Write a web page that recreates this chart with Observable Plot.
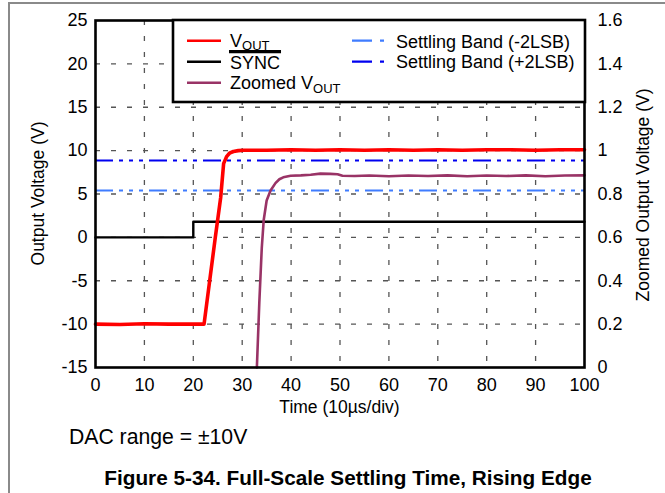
<!DOCTYPE html>
<html><head><meta charset="utf-8">
<script src="https://cdn.jsdelivr.net/npm/d3@7"></script>
<script src="https://cdn.jsdelivr.net/npm/@observablehq/plot@0.6"></script>
<style>
body{margin:0;background:#fff;font-family:"Liberation Sans",Arial,sans-serif;}
#wrap{position:relative;width:665px;height:493px;overflow:hidden;background:#fff;}
#pageborder{position:absolute;left:8px;top:2px;width:700px;height:600px;border-left:2px solid #8a8a8a;border-top:2px solid #8a8a8a;}
#chart{position:absolute;left:0;top:0;}
#legend{position:absolute;left:0;top:0;}
.cap{position:absolute;white-space:nowrap;color:#000;}
</style>
</head><body>
<div id="wrap">
  <div id="pageborder"></div>
  <div id="chart"></div>
  <svg id="legend" width="665" height="120"></svg>
  <div class="cap" id="caption" style="left:69px;top:425px;font-size:21.2px;">DAC range = ±10V</div>
  <div class="cap" id="title" style="left:7px;width:682px;text-align:center;top:466px;font-size:20.75px;font-weight:bold;">Figure 5-34. Full-Scale Settling Time, Rising Edge</div>
</div>
<script>
// ---- data ----
const xTicks = [0,10,20,30,40,50,60,70,80,90,100];
const yTicks = [-15,-10,-5,0,5,10,15,20,25];
const leftTickLabels = ["-15","-10","-5","0","5","10","15","20","25"];
const rightTickLabels = ["0","0.2","0.4","0.6","0.8","1","1.2","1.4","1.6"];

const voutTime = [0,5,10,15,20,22.2,24.5,25.6,26.2,26.8,27.4,28.2,29.2,30.3,35,40,45,50,55,60,65,70,75,80,85,90,95,100];
const voutVal  = [-10,-10.05,-9.95,-10,-10,-10,0,4.6,8.5,9.3,9.7,9.9,10.0,10.05,10.05,10.1,10.05,10.1,10.05,10.1,10.05,10.1,10.05,10.1,10.1,10.05,10.1,10.1];

const syncTime = [0,20,20,100];
const syncVal  = [0,0,1.8,1.8];

const zoomTime = [33.0,33.5,34.0,34.4,35.0,35.8,36.8,37.6,38.4,39.9,42,44,46,48,49.5,50.5,53,56,60,64,68,72,76,80,84,88,92,96,100];
const zoomVal  = [0,0.3,0.55,0.68,0.77,0.816,0.85,0.868,0.877,0.884,0.886,0.889,0.894,0.893,0.891,0.884,0.883,0.885,0.882,0.885,0.883,0.886,0.882,0.885,0.883,0.886,0.882,0.885,0.886];

const bandMinus = 0.816; // Settling Band (-2LSB), right axis
const bandPlus  = 0.954; // Settling Band (+2LSB), right axis

// right axis (0..1.6) maps onto left axis (-15..25)
const zToLeft = z => -15 + z * 25;

const vout = voutTime.map((t,i)=>({t, v: voutVal[i]}));
const sync = syncTime.map((t,i)=>({t, v: syncVal[i]}));
const zoomed = zoomTime.map((t,i)=>({t, v: zToLeft(zoomVal[i])}));

const colors = {vout:"#ff0000", sync:"#000000", zoomed:"#993366", bandMinus:"#3f7cff", bandPlus:"#0000f0"};
const dash = "18,6,4,6,4,6,4,6";

const chart = Plot.plot({
  width: 665, height: 420,
  marginLeft: 95, marginRight: 81, marginTop: 20, marginBottom: 53,
  x: {domain: [0,100]},
  y: {domain: [-15,25]},
  style: {fontFamily: "'Liberation Sans', Arial, sans-serif", fontSize: "18px", color: "#000", background: "transparent"},
  marks: [
    Plot.gridX(xTicks.slice(1,-1), {stroke:"#555", strokeOpacity:1, strokeWidth:1.3, strokeDasharray:"5,11"}),
    Plot.gridY(yTicks.slice(1,-1), {stroke:"#555", strokeOpacity:1, strokeWidth:1.3, strokeDasharray:"5,11"}),
    Plot.ruleY([zToLeft(bandMinus)], {stroke: colors.bandMinus, strokeWidth: 2, strokeDasharray: dash}),
    Plot.ruleY([zToLeft(bandPlus)], {stroke: colors.bandPlus, strokeWidth: 2, strokeDasharray: dash}),
    Plot.line(sync, {x:"t", y:"v", stroke: colors.sync, strokeWidth: 2.4}),
    Plot.line(zoomed, {x:"t", y:"v", stroke: colors.zoomed, strokeWidth: 2.6}),
    Plot.line(vout, {x:"t", y:"v", stroke: colors.vout, strokeWidth: 3.6}),
    Plot.axisX(xTicks, {tickSize: 0, tickPadding: 11, label: null}),
    Plot.axisY(yTicks, {anchor: "left", tickSize: 0, tickPadding: 8, label: null, tickFormat: (d,i) => leftTickLabels[i]}),
    Plot.axisY(yTicks, {anchor: "right", tickSize: 0, tickPadding: 13, label: null, tickFormat: (d,i) => rightTickLabels[i]}),
    Plot.frame({stroke: "#000", strokeWidth: 2.6})
  ]
});
document.getElementById("chart").appendChild(chart);

// axis titles
const svg = d3.select(chart);
const tf = "'Liberation Sans', Arial, sans-serif";
svg.append("text").attr("transform","translate(38,193.5) rotate(-90)")
  .attr("text-anchor","middle").attr("dominant-baseline","central")
  .style("font-family",tf).style("font-size","17.5px").attr("fill","#000")
  .text("Output Voltage (V)");
svg.append("text").attr("transform","translate(643,195) rotate(-90)")
  .attr("text-anchor","middle").attr("dominant-baseline","central")
  .style("font-family",tf).style("font-size","17.5px").attr("fill","#000")
  .text("Zoomed Output Voltage (V)");
svg.append("text").attr("x",339.5).attr("y",407)
  .attr("text-anchor","middle").attr("dominant-baseline","central")
  .style("font-family",tf).style("font-size","17.5px").attr("fill","#000")
  .text("Time (10µs/div)");

// legend
const lg = d3.select("#legend");
lg.append("rect").attr("x",173).attr("y",20).attr("width",412).attr("height",82)
  .attr("fill","#fff").attr("stroke","#000").attr("stroke-width",2.6);
const lf = g => g.style("font-family",tf).style("font-size","18px").attr("fill","#000");
function sample(x1,x2,y,color,w,da){
  const l = lg.append("line").attr("x1",x1).attr("x2",x2).attr("y1",y).attr("y2",y)
    .attr("stroke",color).attr("stroke-width",w);
  if (da) l.attr("stroke-dasharray", da);
}
sample(187,221,40.7,colors.vout,2.6);
sample(187,221,61.7,colors.sync,2.6);
sample(187,221,82.7,colors.zoomed,2.6);
sample(352,384,40.7,colors.bandMinus,2.2,"20,8,4,20");
sample(352,384,61.7,colors.bandPlus,2.2,"20,8,4,20");

const t1 = lg.append("text").attr("x",230).attr("y",47).call(lf);
t1.append("tspan").text("V");
t1.append("tspan").attr("dy",3).style("font-size","13px").text("OUT");
const t2 = lg.append("text").attr("x",230).attr("y",68.5).call(lf).text("SYNC");
const w2 = t2.node().getComputedTextLength();
lg.append("line").attr("x1",229).attr("x2",231 + w2).attr("y1",51.7).attr("y2",51.7)
  .attr("stroke","#000").attr("stroke-width",3.2);
const t3 = lg.append("text").attr("x",230).attr("y",89).call(lf);
t3.append("tspan").text("Zoomed V");
t3.append("tspan").attr("dy",3.5).style("font-size","13px").text("OUT");
lg.append("text").attr("x",396).attr("y",48).call(lf).text("Settling Band (-2LSB)");
lg.append("text").attr("x",396).attr("y",68.3).call(lf).text("Settling Band (+2LSB)");
</script>
</body></html>
